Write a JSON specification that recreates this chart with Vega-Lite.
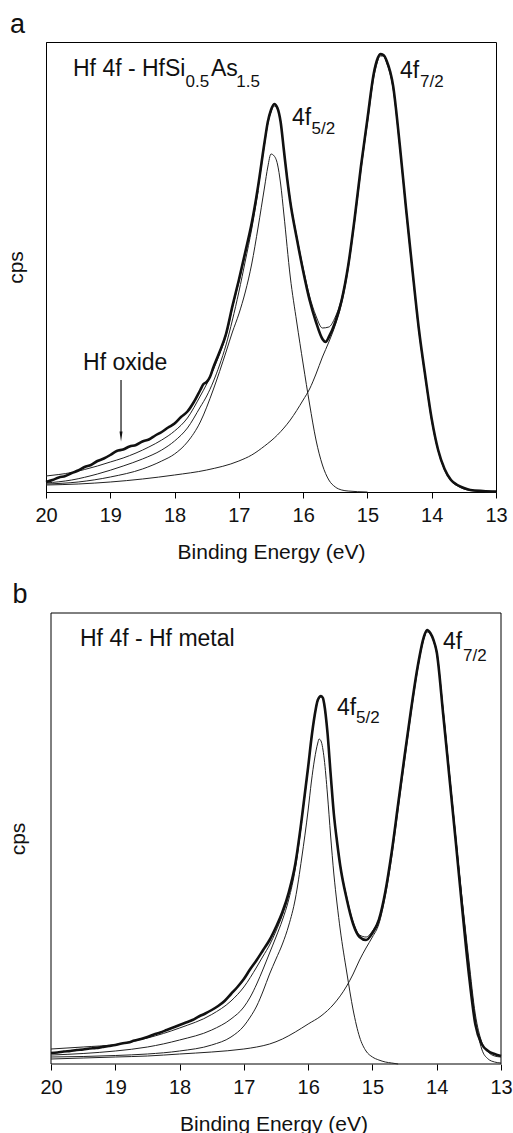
{
  "$schema": "https://vega.github.io/schema/vega-lite/v6.json",
  "padding": {"left": 4, "top": 10, "right": 5, "bottom": 0},
  "spacing": 17,
  "config": {
    "font": "Liberation Sans",
    "view": {"stroke": "#000", "strokeWidth": 1},
    "axis": {"domainColor": "#000", "tickColor": "#000", "labelColor": "#111", "titleColor": "#111", "grid": false, "titleFontWeight": "normal"}
  },
  "datasets": {
    "a": [
      {"series":"data","E":20,"h":10},{"series":"data","E":19.9,"h":12},{"series":"data","E":19.8,"h":14.5},{"series":"data","E":19.7,"h":16},{"series":"data","E":19.6,"h":19},{"series":"data","E":19.5,"h":21.5},{"series":"data","E":19.4,"h":25},{"series":"data","E":19.3,"h":27},{"series":"data","E":19.2,"h":31},{"series":"data","E":19.1,"h":33.5},{"series":"data","E":19,"h":37},{"series":"data","E":18.9,"h":41},{"series":"data","E":18.8,"h":42.5},{"series":"data","E":18.7,"h":45.5},{"series":"data","E":18.6,"h":47},{"series":"data","E":18.5,"h":50.5},{"series":"data","E":18.4,"h":52.5},{"series":"data","E":18.3,"h":56.5},{"series":"data","E":18.2,"h":60},{"series":"data","E":18.1,"h":64.5},{"series":"data","E":18,"h":68.5},{"series":"data","E":17.9,"h":75},{"series":"data","E":17.8,"h":80.5},{"series":"data","E":17.7,"h":90},{"series":"data","E":17.6,"h":102},{"series":"data","E":17.55,"h":108},{"series":"data","E":17.5,"h":110},{"series":"data","E":17.45,"h":115},{"series":"data","E":17.4,"h":124},{"series":"data","E":17.3,"h":140},{"series":"data","E":17.2,"h":158},{"series":"data","E":17.1,"h":186},{"series":"data","E":17,"h":212},{"series":"data","E":16.9,"h":240},{"series":"data","E":16.8,"h":269},{"series":"data","E":16.7,"h":306},{"series":"data","E":16.6,"h":350},{"series":"data","E":16.55,"h":370},{"series":"data","E":16.5,"h":382},{"series":"data","E":16.45,"h":388},{"series":"data","E":16.4,"h":384},{"series":"data","E":16.35,"h":370},{"series":"data","E":16.3,"h":342},{"series":"data","E":16.25,"h":314},{"series":"data","E":16.2,"h":290},{"series":"data","E":16.1,"h":254},{"series":"data","E":16,"h":221},{"series":"data","E":15.9,"h":192},{"series":"data","E":15.8,"h":170},{"series":"data","E":15.7,"h":153},{"series":"data","E":15.65,"h":150},{"series":"data","E":15.6,"h":155},{"series":"data","E":15.5,"h":170},{"series":"data","E":15.4,"h":192},{"series":"data","E":15.3,"h":226},{"series":"data","E":15.2,"h":273},{"series":"data","E":15.1,"h":326},{"series":"data","E":15,"h":373},{"series":"data","E":14.9,"h":419},{"series":"data","E":14.85,"h":432},{"series":"data","E":14.8,"h":438},{"series":"data","E":14.75,"h":437},{"series":"data","E":14.7,"h":431},{"series":"data","E":14.6,"h":406},{"series":"data","E":14.5,"h":349},{"series":"data","E":14.4,"h":284},{"series":"data","E":14.3,"h":222},{"series":"data","E":14.2,"h":163},{"series":"data","E":14.1,"h":116},{"series":"data","E":14,"h":73},{"series":"data","E":13.9,"h":42},{"series":"data","E":13.8,"h":23},{"series":"data","E":13.7,"h":12},{"series":"data","E":13.6,"h":7},{"series":"data","E":13.5,"h":4},{"series":"data","E":13.4,"h":2},{"series":"data","E":13.2,"h":1},{"series":"data","E":13,"h":0.5},
      {"series":"fit","E":20,"h":16},{"series":"fit","E":19.8,"h":17.5},{"series":"fit","E":19.6,"h":19.5},{"series":"fit","E":19.4,"h":22.5},{"series":"fit","E":19.2,"h":26},{"series":"fit","E":19,"h":30},{"series":"fit","E":18.8,"h":34},{"series":"fit","E":18.6,"h":39},{"series":"fit","E":18.4,"h":45},{"series":"fit","E":18.2,"h":52},{"series":"fit","E":18,"h":61},{"series":"fit","E":17.8,"h":74},{"series":"fit","E":17.6,"h":96},{"series":"fit","E":17.5,"h":108},{"series":"fit","E":17.4,"h":122},{"series":"fit","E":17.3,"h":138},{"series":"fit","E":17.2,"h":156},{"series":"fit","E":17.1,"h":184},{"series":"fit","E":17,"h":210},{"series":"fit","E":16.9,"h":238},{"series":"fit","E":16.8,"h":267},{"series":"fit","E":16.7,"h":304},{"series":"fit","E":16.6,"h":348},{"series":"fit","E":16.55,"h":368},{"series":"fit","E":16.5,"h":380},{"series":"fit","E":16.45,"h":386},{"series":"fit","E":16.4,"h":383},{"series":"fit","E":16.35,"h":370},{"series":"fit","E":16.3,"h":342},{"series":"fit","E":16.25,"h":316},{"series":"fit","E":16.2,"h":292},{"series":"fit","E":16.1,"h":256},{"series":"fit","E":16,"h":224},{"series":"fit","E":15.9,"h":196},{"series":"fit","E":15.8,"h":176},{"series":"fit","E":15.7,"h":164},{"series":"fit","E":15.6,"h":165},{"series":"fit","E":15.5,"h":175},{"series":"fit","E":15.4,"h":194},{"series":"fit","E":15.3,"h":227},{"series":"fit","E":15.2,"h":273},{"series":"fit","E":15.1,"h":326},{"series":"fit","E":15,"h":373},{"series":"fit","E":14.9,"h":419},{"series":"fit","E":14.85,"h":432},{"series":"fit","E":14.8,"h":437},{"series":"fit","E":14.75,"h":436},{"series":"fit","E":14.7,"h":430},{"series":"fit","E":14.6,"h":405},{"series":"fit","E":14.5,"h":349},{"series":"fit","E":14.4,"h":284},{"series":"fit","E":14.3,"h":222},{"series":"fit","E":14.2,"h":163},{"series":"fit","E":14.1,"h":116},{"series":"fit","E":14,"h":73},{"series":"fit","E":13.9,"h":42},{"series":"fit","E":13.8,"h":23},{"series":"fit","E":13.7,"h":12},{"series":"fit","E":13.6,"h":7},{"series":"fit","E":13.5,"h":4},{"series":"fit","E":13.4,"h":2},{"series":"fit","E":13.2,"h":1},{"series":"fit","E":13,"h":0.5},
      {"series":"sum2","E":20,"h":9},{"series":"sum2","E":19.6,"h":12},{"series":"sum2","E":19.2,"h":18},{"series":"sum2","E":18.8,"h":26},{"series":"sum2","E":18.5,"h":33},{"series":"sum2","E":18.2,"h":42},{"series":"sum2","E":18,"h":51},{"series":"sum2","E":17.8,"h":64},{"series":"sum2","E":17.6,"h":85},{"series":"sum2","E":17.5,"h":96},{"series":"sum2","E":17.4,"h":110},{"series":"sum2","E":17.3,"h":127},{"series":"sum2","E":17.2,"h":147},{"series":"sum2","E":17.1,"h":172},{"series":"sum2","E":17,"h":200},{"series":"sum2","E":16.9,"h":231},{"series":"sum2","E":16.8,"h":263},{"series":"sum2","E":16.7,"h":301},
      {"series":"c52","E":20,"h":8},{"series":"c52","E":19.5,"h":10},{"series":"c52","E":19,"h":15},{"series":"c52","E":18.5,"h":23},{"series":"c52","E":18.2,"h":31},{"series":"c52","E":18,"h":38},{"series":"c52","E":17.8,"h":50},{"series":"c52","E":17.6,"h":70},{"series":"c52","E":17.4,"h":102},{"series":"c52","E":17.2,"h":140},{"series":"c52","E":17.1,"h":160},{"series":"c52","E":17,"h":178},{"series":"c52","E":16.9,"h":200},{"series":"c52","E":16.8,"h":228},{"series":"c52","E":16.7,"h":265},{"series":"c52","E":16.6,"h":305},{"series":"c52","E":16.55,"h":325},{"series":"c52","E":16.5,"h":338},{"series":"c52","E":16.45,"h":336},{"series":"c52","E":16.4,"h":328},{"series":"c52","E":16.35,"h":308},{"series":"c52","E":16.3,"h":278},{"series":"c52","E":16.2,"h":215},{"series":"c52","E":16.1,"h":170},{"series":"c52","E":16,"h":128},{"series":"c52","E":15.9,"h":88},{"series":"c52","E":15.8,"h":52},{"series":"c52","E":15.7,"h":27},{"series":"c52","E":15.6,"h":12},{"series":"c52","E":15.5,"h":5},{"series":"c52","E":15.4,"h":2},{"series":"c52","E":15.3,"h":1},{"series":"c52","E":15,"h":0},
      {"series":"c72","E":20,"h":7},{"series":"c72","E":19.5,"h":8},{"series":"c72","E":19,"h":10},{"series":"c72","E":18.5,"h":13},{"series":"c72","E":18,"h":17},{"series":"c72","E":17.5,"h":22},{"series":"c72","E":17,"h":31},{"series":"c72","E":16.8,"h":37},{"series":"c72","E":16.6,"h":46},{"series":"c72","E":16.4,"h":57},{"series":"c72","E":16.2,"h":72},{"series":"c72","E":16,"h":92},{"series":"c72","E":15.9,"h":103},{"series":"c72","E":15.8,"h":118},{"series":"c72","E":15.7,"h":135},{"series":"c72","E":15.6,"h":150},{"series":"c72","E":15.5,"h":167},{"series":"c72","E":15.4,"h":189},{"series":"c72","E":15.3,"h":223},{"series":"c72","E":15.2,"h":270},{"series":"c72","E":15.1,"h":322},{"series":"c72","E":15,"h":369},{"series":"c72","E":14.9,"h":415},{"series":"c72","E":14.85,"h":429},{"series":"c72","E":14.8,"h":436},{"series":"c72","E":14.75,"h":436},{"series":"c72","E":14.7,"h":429},{"series":"c72","E":14.6,"h":403},{"series":"c72","E":14.5,"h":347},{"series":"c72","E":14.4,"h":282},{"series":"c72","E":14.3,"h":220},{"series":"c72","E":14.2,"h":161},{"series":"c72","E":14.1,"h":114},{"series":"c72","E":14,"h":71},{"series":"c72","E":13.9,"h":41},{"series":"c72","E":13.8,"h":22},{"series":"c72","E":13.7,"h":11},{"series":"c72","E":13.6,"h":6},{"series":"c72","E":13.5,"h":3},{"series":"c72","E":13.4,"h":1.5},{"series":"c72","E":13.2,"h":0.5},{"series":"c72","E":13,"h":0}
    ],
    "b": [
      {"series":"data","E":20,"h":11},{"series":"data","E":19.9,"h":11.5},{"series":"data","E":19.8,"h":12.5},{"series":"data","E":19.7,"h":13},{"series":"data","E":19.6,"h":14},{"series":"data","E":19.5,"h":14.5},{"series":"data","E":19.4,"h":15.5},{"series":"data","E":19.3,"h":16},{"series":"data","E":19.2,"h":17},{"series":"data","E":19.1,"h":18},{"series":"data","E":19,"h":19},{"series":"data","E":18.9,"h":20.5},{"series":"data","E":18.8,"h":21.5},{"series":"data","E":18.7,"h":23.5},{"series":"data","E":18.6,"h":25},{"series":"data","E":18.5,"h":27},{"series":"data","E":18.4,"h":29.5},{"series":"data","E":18.3,"h":31.5},{"series":"data","E":18.2,"h":34},{"series":"data","E":18.1,"h":36.5},{"series":"data","E":18,"h":39},{"series":"data","E":17.9,"h":41.5},{"series":"data","E":17.8,"h":44},{"series":"data","E":17.7,"h":47.5},{"series":"data","E":17.6,"h":50.5},{"series":"data","E":17.5,"h":54},{"series":"data","E":17.4,"h":58},{"series":"data","E":17.3,"h":63},{"series":"data","E":17.2,"h":70},{"series":"data","E":17.1,"h":77},{"series":"data","E":17,"h":85},{"series":"data","E":16.9,"h":95},{"series":"data","E":16.8,"h":104},{"series":"data","E":16.7,"h":114},{"series":"data","E":16.6,"h":124},{"series":"data","E":16.5,"h":137},{"series":"data","E":16.4,"h":152},{"series":"data","E":16.3,"h":172},{"series":"data","E":16.2,"h":200},{"series":"data","E":16.1,"h":245},{"series":"data","E":16,"h":297},{"series":"data","E":15.95,"h":325},{"series":"data","E":15.9,"h":348},{"series":"data","E":15.85,"h":364},{"series":"data","E":15.8,"h":368},{"series":"data","E":15.77,"h":366},{"series":"data","E":15.75,"h":360},{"series":"data","E":15.7,"h":332},{"series":"data","E":15.65,"h":290},{"series":"data","E":15.6,"h":250},{"series":"data","E":15.55,"h":222},{"series":"data","E":15.5,"h":198},{"series":"data","E":15.4,"h":165},{"series":"data","E":15.3,"h":140},{"series":"data","E":15.2,"h":127},{"series":"data","E":15.1,"h":124},{"series":"data","E":15,"h":131},{"series":"data","E":14.9,"h":144},{"series":"data","E":14.8,"h":172},{"series":"data","E":14.7,"h":212},{"series":"data","E":14.6,"h":260},{"series":"data","E":14.5,"h":308},{"series":"data","E":14.4,"h":354},{"series":"data","E":14.3,"h":396},{"series":"data","E":14.2,"h":427},{"series":"data","E":14.15,"h":434},{"series":"data","E":14.1,"h":431},{"series":"data","E":14.05,"h":424},{"series":"data","E":14,"h":412},{"series":"data","E":13.9,"h":350},{"series":"data","E":13.8,"h":285},{"series":"data","E":13.7,"h":220},{"series":"data","E":13.6,"h":153},{"series":"data","E":13.5,"h":90},{"series":"data","E":13.4,"h":40},{"series":"data","E":13.3,"h":20},{"series":"data","E":13.2,"h":13},{"series":"data","E":13.1,"h":10},{"series":"data","E":13,"h":8},
      {"series":"fit","E":20,"h":15},{"series":"fit","E":19.5,"h":17},{"series":"fit","E":19,"h":19.5},{"series":"fit","E":18.9,"h":20.5},{"series":"fit","E":18.5,"h":26},{"series":"fit","E":18,"h":36},{"series":"fit","E":17.5,"h":49.5},{"series":"fit","E":17.2,"h":63},{"series":"fit","E":17,"h":77},{"series":"fit","E":16.8,"h":97},{"series":"fit","E":16.7,"h":108},{"series":"fit","E":16.6,"h":119},{"series":"fit","E":16.5,"h":133},{"series":"fit","E":16.4,"h":149},{"series":"fit","E":16.3,"h":169},{"series":"fit","E":16.2,"h":198},{"series":"fit","E":16.1,"h":244},{"series":"fit","E":16,"h":296},{"series":"fit","E":15.95,"h":324},{"series":"fit","E":15.9,"h":347},{"series":"fit","E":15.85,"h":363},{"series":"fit","E":15.8,"h":367},{"series":"fit","E":15.77,"h":365},{"series":"fit","E":15.75,"h":359},{"series":"fit","E":15.7,"h":331},{"series":"fit","E":15.65,"h":290},{"series":"fit","E":15.6,"h":251},{"series":"fit","E":15.55,"h":223},{"series":"fit","E":15.5,"h":199},{"series":"fit","E":15.4,"h":167},{"series":"fit","E":15.3,"h":142},{"series":"fit","E":15.2,"h":129},{"series":"fit","E":15.1,"h":127},{"series":"fit","E":15,"h":133},{"series":"fit","E":14.9,"h":145},{"series":"fit","E":14.8,"h":172},{"series":"fit","E":14.7,"h":212},{"series":"fit","E":14.6,"h":260},{"series":"fit","E":14.5,"h":308},{"series":"fit","E":14.4,"h":354},{"series":"fit","E":14.3,"h":396},{"series":"fit","E":14.2,"h":426},{"series":"fit","E":14.15,"h":432},{"series":"fit","E":14.1,"h":430},{"series":"fit","E":14.05,"h":424},{"series":"fit","E":14,"h":413},{"series":"fit","E":13.9,"h":353},{"series":"fit","E":13.8,"h":289},{"series":"fit","E":13.7,"h":224},{"series":"fit","E":13.6,"h":162},{"series":"fit","E":13.5,"h":104},{"series":"fit","E":13.4,"h":50},{"series":"fit","E":13.3,"h":22},{"series":"fit","E":13.2,"h":12},{"series":"fit","E":13.1,"h":8},{"series":"fit","E":13,"h":7},
      {"series":"sum2","E":20,"h":9},{"series":"sum2","E":19.5,"h":10.5},{"series":"sum2","E":19,"h":13},{"series":"sum2","E":18.5,"h":17},{"series":"sum2","E":18,"h":24},{"series":"sum2","E":17.5,"h":34},{"series":"sum2","E":17.2,"h":45},{"series":"sum2","E":17,"h":57},{"series":"sum2","E":16.9,"h":67},{"series":"sum2","E":16.8,"h":80},{"series":"sum2","E":16.7,"h":95},{"series":"sum2","E":16.6,"h":111},{"series":"sum2","E":16.5,"h":127},{"series":"sum2","E":16.4,"h":144},{"series":"sum2","E":16.3,"h":165},{"series":"sum2","E":16.2,"h":195},{"series":"sum2","E":16.1,"h":242},
      {"series":"c52","E":20,"h":7},{"series":"c52","E":19.5,"h":7.5},{"series":"c52","E":19,"h":8.5},{"series":"c52","E":18.5,"h":10},{"series":"c52","E":18,"h":13},{"series":"c52","E":17.5,"h":19},{"series":"c52","E":17.2,"h":27},{"series":"c52","E":17,"h":38},{"series":"c52","E":16.9,"h":47},{"series":"c52","E":16.8,"h":58},{"series":"c52","E":16.7,"h":73},{"series":"c52","E":16.6,"h":90},{"series":"c52","E":16.5,"h":105},{"series":"c52","E":16.4,"h":120},{"series":"c52","E":16.3,"h":139},{"series":"c52","E":16.2,"h":165},{"series":"c52","E":16.1,"h":206},{"series":"c52","E":16,"h":254},{"series":"c52","E":15.95,"h":282},{"series":"c52","E":15.9,"h":305},{"series":"c52","E":15.85,"h":321},{"series":"c52","E":15.83,"h":325},{"series":"c52","E":15.8,"h":323},{"series":"c52","E":15.75,"h":305},{"series":"c52","E":15.7,"h":270},{"series":"c52","E":15.65,"h":228},{"series":"c52","E":15.6,"h":190},{"series":"c52","E":15.55,"h":160},{"series":"c52","E":15.5,"h":134},{"series":"c52","E":15.4,"h":92},{"series":"c52","E":15.3,"h":54},{"series":"c52","E":15.2,"h":27},{"series":"c52","E":15.1,"h":13},{"series":"c52","E":15,"h":7},{"series":"c52","E":14.9,"h":4},{"series":"c52","E":14.8,"h":2},{"series":"c52","E":14.7,"h":1},{"series":"c52","E":14.6,"h":0},
      {"series":"c72","E":20,"h":5},{"series":"c72","E":19.5,"h":6},{"series":"c72","E":19,"h":7},{"series":"c72","E":18.5,"h":8},{"series":"c72","E":18,"h":10},{"series":"c72","E":17.5,"h":12},{"series":"c72","E":17,"h":15},{"series":"c72","E":16.8,"h":17},{"series":"c72","E":16.6,"h":20},{"series":"c72","E":16.4,"h":25},{"series":"c72","E":16.2,"h":32},{"series":"c72","E":16,"h":40},{"series":"c72","E":15.8,"h":48},{"series":"c72","E":15.6,"h":60},{"series":"c72","E":15.4,"h":78},{"series":"c72","E":15.3,"h":90},{"series":"c72","E":15.2,"h":104},{"series":"c72","E":15.1,"h":116},{"series":"c72","E":15,"h":127},{"series":"c72","E":14.9,"h":140},{"series":"c72","E":14.8,"h":168},{"series":"c72","E":14.7,"h":207},{"series":"c72","E":14.6,"h":255},{"series":"c72","E":14.5,"h":303},{"series":"c72","E":14.4,"h":350},{"series":"c72","E":14.3,"h":393},{"series":"c72","E":14.2,"h":425},{"series":"c72","E":14.15,"h":433},{"series":"c72","E":14.1,"h":431},{"series":"c72","E":14.05,"h":423},{"series":"c72","E":14,"h":410},{"series":"c72","E":13.9,"h":355},{"series":"c72","E":13.8,"h":290},{"series":"c72","E":13.7,"h":225},{"series":"c72","E":13.6,"h":160},{"series":"c72","E":13.5,"h":100},{"series":"c72","E":13.4,"h":45},{"series":"c72","E":13.3,"h":15},{"series":"c72","E":13.2,"h":5},{"series":"c72","E":13.1,"h":2},{"series":"c72","E":13,"h":1}
    ],
    "ta": [
      {"role":"main","E":19.58,"h":416,"label":"Hf 4f - HfSi"},
      {"role":"sub","E":17.83,"h":405,"label":"0.5"},
      {"role":"main","E":17.433,"h":416,"label":"As"},
      {"role":"sub","E":17.04,"h":405,"label":"1.5"},
      {"role":"main","E":16.173,"h":367,"label":"4f"},
      {"role":"sub","E":15.87,"h":358,"label":"5/2"},
      {"role":"main","E":14.493,"h":414,"label":"4f"},
      {"role":"sub","E":14.182,"h":405,"label":"7/2"},
      {"role":"main","E":19.424,"h":122,"label":"Hf oxide"},
      {"role":"panel","E":20.56,"h":459,"label":"a"}
    ],
    "tb": [
      {"role":"main","E":19.549,"h":418,"label":"Hf 4f - Hf metal"},
      {"role":"main","E":15.551,"h":349,"label":"4f"},
      {"role":"sub","E":15.256,"h":341,"label":"5/2"},
      {"role":"main","E":13.902,"h":415,"label":"4f"},
      {"role":"sub","E":13.591,"h":403,"label":"7/2"},
      {"role":"panel","E":20.6,"h":461,"label":"b"}
    ],
    "boxb": [
      {"E":20,"h":0,"E2":13,"h2":0},
      {"E":20,"h":451,"E2":13,"h2":451},
      {"E":20,"h":0,"E2":20,"h2":451},
      {"E":13,"h":0,"E2":13,"h2":451}
    ],
    "arrow": [{"E":18.833,"h":112,"h2":60}],
    "arrowhead": [{"E":18.833,"h":55.5}]
  },
  "vconcat": [
    {
      "width": 450,
      "height": 450,
      "encoding": {
        "x": {"field": "E", "type": "quantitative", "scale": {"domain": [13, 20], "reverse": true, "nice": false, "zero": false},
              "axis": {"title": "Binding Energy (eV)", "values": [13,14,15,16,17,18,19,20], "format": "d", "tickSize": 6, "labelPadding": 7, "titlePadding": 16, "labelFontSize": 20, "titleFontSize": 21, "labelFlush": false, "labelOverlap": false}},
        "y": {"field": "h", "type": "quantitative", "scale": {"domain": [0, 450], "nice": false, "zero": false},
              "axis": {"title": "cps", "labels": false, "ticks": false, "titleFontSize": 21, "titlePadding": 20, "minExtent": 0}}
      },
      "layer": [
        {"data": {"name": "a"}, "transform": [{"filter": "datum.series !== 'data'"}],
         "mark": {"type": "line", "strokeWidth": 1, "color": "#222", "interpolate": "monotone"},
         "encoding": {"detail": {"field": "series", "type": "nominal"}}},
        {"data": {"name": "a"}, "transform": [{"filter": "datum.series === 'data'"}],
         "mark": {"type": "line", "strokeWidth": 2.6, "color": "#111", "interpolate": "monotone"}},
        {"data": {"name": "ta"}, "transform": [{"filter": "datum.role === 'main'"}],
         "mark": {"type": "text", "align": "left", "baseline": "alphabetic", "fontSize": 23, "color": "#111"},
         "encoding": {"text": {"field": "label"}}},
        {"data": {"name": "ta"}, "transform": [{"filter": "datum.role === 'sub'"}],
         "mark": {"type": "text", "align": "left", "baseline": "alphabetic", "fontSize": 17, "color": "#111"},
         "encoding": {"text": {"field": "label"}}},
        {"data": {"name": "ta"}, "transform": [{"filter": "datum.role === 'panel'"}],
         "mark": {"type": "text", "align": "left", "baseline": "alphabetic", "fontSize": 27, "color": "#111"},
         "encoding": {"text": {"field": "label"}}},
        {"data": {"name": "arrow"}, "mark": {"type": "rule", "strokeWidth": 1.2, "color": "#111"},
         "encoding": {"y2": {"field": "h2"}}},
        {"data": {"name": "arrowhead"}, "mark": {"type": "point", "shape": "M-0.3,-1L0.3,-1L0,1Z", "size": 100, "filled": true, "color": "#111", "opacity": 1}}
      ]
    },
    {
      "width": 455,
      "height": 451,
      "view": {"stroke": null},
      "encoding": {
        "x": {"field": "E", "type": "quantitative", "scale": {"domain": [13, 20.0778], "reverse": true, "nice": false, "zero": false},
              "axis": {"title": "Binding Energy (eV)", "values": [13,14,15,16,17,18,19,20], "format": "d", "domain": false, "tickSize": 6, "labelPadding": 7, "titlePadding": 16, "labelFontSize": 20, "titleFontSize": 21, "labelFlush": false, "labelOverlap": false}},
        "y": {"field": "h", "type": "quantitative", "scale": {"domain": [0, 451], "nice": false, "zero": false},
              "axis": {"title": "cps", "labels": false, "ticks": false, "domain": false, "titleFontSize": 21, "titlePadding": 18, "minExtent": 0}}
      },
      "layer": [
        {"data": {"name": "boxb"}, "mark": {"type": "rule", "strokeWidth": 1, "color": "#000"},
         "encoding": {"x2": {"field": "E2"}, "y2": {"field": "h2"}}},
        {"data": {"name": "b"}, "transform": [{"filter": "datum.series !== 'data'"}],
         "mark": {"type": "line", "strokeWidth": 1, "color": "#222", "interpolate": "monotone"},
         "encoding": {"detail": {"field": "series", "type": "nominal"}}},
        {"data": {"name": "b"}, "transform": [{"filter": "datum.series === 'data'"}],
         "mark": {"type": "line", "strokeWidth": 2.6, "color": "#111", "interpolate": "monotone"}},
        {"data": {"name": "tb"}, "transform": [{"filter": "datum.role === 'main'"}],
         "mark": {"type": "text", "align": "left", "baseline": "alphabetic", "fontSize": 23, "color": "#111"},
         "encoding": {"text": {"field": "label"}}},
        {"data": {"name": "tb"}, "transform": [{"filter": "datum.role === 'sub'"}],
         "mark": {"type": "text", "align": "left", "baseline": "alphabetic", "fontSize": 17, "color": "#111"},
         "encoding": {"text": {"field": "label"}}},
        {"data": {"name": "tb"}, "transform": [{"filter": "datum.role === 'panel'"}],
         "mark": {"type": "text", "align": "left", "baseline": "alphabetic", "fontSize": 27, "color": "#111"},
         "encoding": {"text": {"field": "label"}}}
      ]
    }
  ]
}
